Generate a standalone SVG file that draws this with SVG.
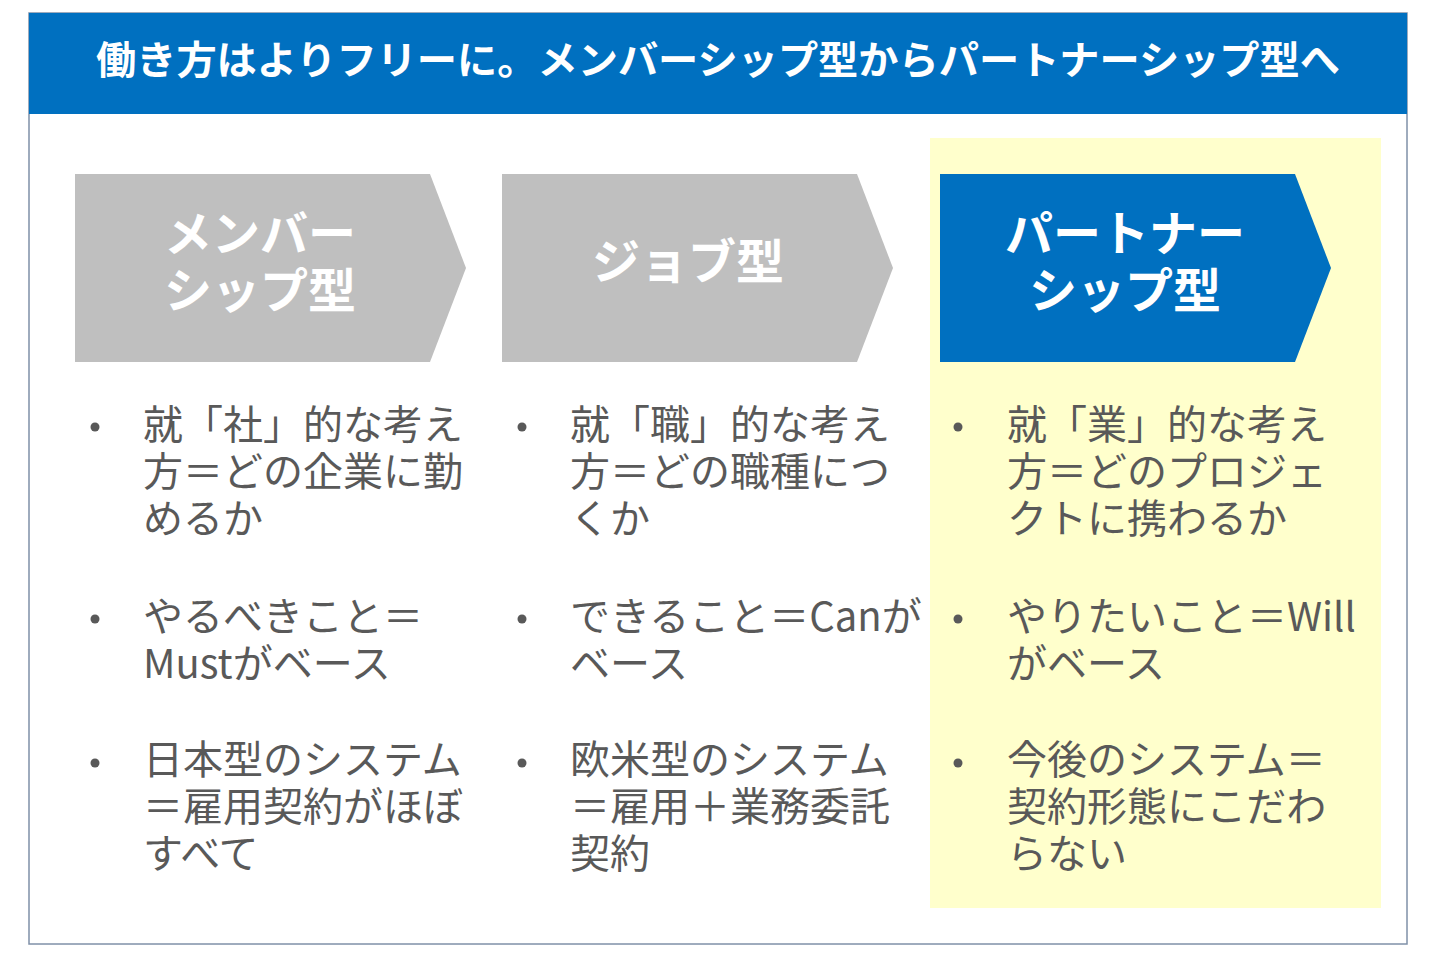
<svg xmlns="http://www.w3.org/2000/svg" width="1440" height="956" viewBox="0 0 1440 956">
<style>
.title{font-family:"Noto Sans CJK JP","Noto Sans CJK SC",sans-serif;font-weight:700;font-size:39px;fill:#ffffff}
.chev{font-family:"Noto Sans CJK JP","Noto Sans CJK SC",sans-serif;font-weight:700;font-size:48px;fill:#ffffff;text-anchor:middle}
.body{font-family:"Noto Sans CJK JP","Noto Sans CJK SC",sans-serif;font-weight:400;font-size:40px;fill:#595959}
.dot{fill:#595959}
.grey{fill:#bfbfbf}
.blue{fill:#0070c0}
</style>
<rect x="0" y="0" width="1440" height="956" fill="#ffffff"/>
<rect x="29" y="13" width="1378" height="931" fill="#ffffff" stroke="#7f90a8" stroke-width="1.5"/>
<g id="header">
<rect x="29" y="13" width="1378" height="101" class="blue"/>
<text x="96" y="74" class="title" textLength="1244" lengthAdjust="spacingAndGlyphs">働き方はよりフリーに。メンバーシップ型からパートナーシップ型へ</text>
</g>
<rect id="highlight" x="930" y="138" width="451" height="770" fill="#ffffcc"/>
<g id="chevron-member">
<polygon points="75,174 430,174 466,268 430,362 75,362" class="grey"/>
<text x="260" y="251" class="chev">メンバー</text>
<text x="260" y="308" class="chev">シップ型</text>
</g>
<g id="chevron-job">
<polygon points="502,174 857,174 893,268 857,362 502,362" class="grey"/>
<text x="688" y="279" class="chev">ジョブ型</text>
</g>
<g id="chevron-partner">
<polygon points="940,174 1295,174 1331,268 1295,362 940,362" class="blue"/>
<text x="1125" y="251" class="chev">パートナー</text>
<text x="1125" y="308" class="chev">シップ型</text>
</g>
<g id="col-member">
<circle cx="95" cy="427" r="4.5" class="dot"/>
<circle cx="95" cy="619" r="4.5" class="dot"/>
<circle cx="95" cy="763" r="4.5" class="dot"/>
<text class="body"><tspan x="143" y="439">就「社」的な考え</tspan><tspan x="143" y="486">方＝どの企業に勤</tspan><tspan x="143" y="533">めるか</tspan></text>
<text class="body"><tspan x="143" y="631">やるべきこと＝</tspan><tspan x="143" y="678">Mustがベース</tspan></text>
<text class="body"><tspan x="143" y="774">日本型のシステム</tspan><tspan x="143" y="821">＝雇用契約がほぼ</tspan><tspan x="143" y="868">すべて</tspan></text>
</g>
<g id="col-job">
<circle cx="522" cy="427" r="4.5" class="dot"/>
<circle cx="522" cy="619" r="4.5" class="dot"/>
<circle cx="522" cy="763" r="4.5" class="dot"/>
<text class="body"><tspan x="570" y="439">就「職」的な考え</tspan><tspan x="570" y="486">方＝どの職種につ</tspan><tspan x="570" y="533">くか</tspan></text>
<text class="body"><tspan x="570" y="631">できること＝Canが</tspan><tspan x="570" y="678">ベース</tspan></text>
<text class="body"><tspan x="570" y="774">欧米型のシステム</tspan><tspan x="570" y="821">＝雇用＋業務委託</tspan><tspan x="570" y="868">契約</tspan></text>
</g>
<g id="col-partner">
<circle cx="958" cy="427" r="4.5" class="dot"/>
<circle cx="958" cy="619" r="4.5" class="dot"/>
<circle cx="958" cy="763" r="4.5" class="dot"/>
<text class="body"><tspan x="1007" y="439">就「業」的な考え</tspan><tspan x="1007" y="486">方＝どのプロジェ</tspan><tspan x="1007" y="533">クトに携わるか</tspan></text>
<text class="body"><tspan x="1007" y="631">やりたいこと＝Will</tspan><tspan x="1007" y="678">がベース</tspan></text>
<text class="body"><tspan x="1007" y="774">今後のシステム＝</tspan><tspan x="1007" y="821">契約形態にこだわ</tspan><tspan x="1007" y="868">らない</tspan></text>
</g>
<g id="connectors"></g>
</svg>
